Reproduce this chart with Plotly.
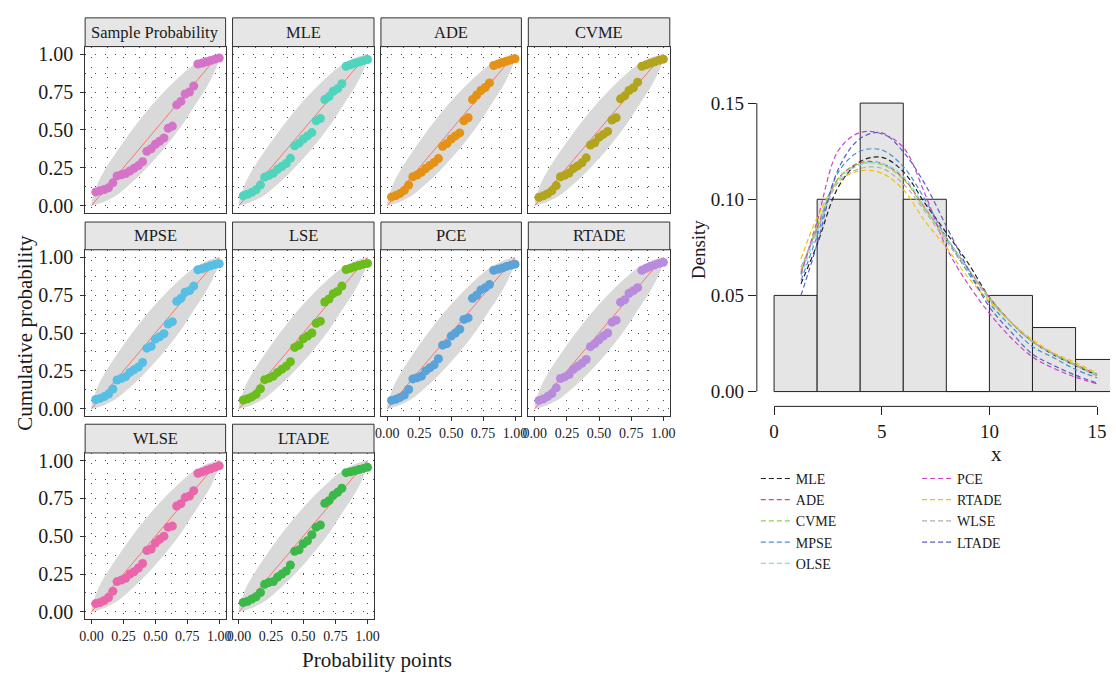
import plotly.graph_objects as go

W, H = 1116, 675
SERIF = "Liberation Serif"

# ---------------- P-P plot data ----------------
pp_x = [0.033, 0.067, 0.100, 0.133, 0.167, 0.200, 0.233, 0.267, 0.300, 0.333,
        0.367, 0.400, 0.433, 0.467, 0.500, 0.533, 0.567, 0.600, 0.633, 0.667,
        0.700, 0.733, 0.767, 0.800, 0.833, 0.867, 0.900, 0.933, 0.967, 1.000]

sample_prob = [0.090, 0.097, 0.106, 0.117, 0.150, 0.196, 0.203, 0.212, 0.228, 0.246,
               0.264, 0.290, 0.358, 0.375, 0.405, 0.425, 0.446, 0.510, 0.525, 0.665,
               0.688, 0.737, 0.750, 0.790, 0.935, 0.942, 0.950, 0.958, 0.967, 0.975]
mle = [0.064, 0.075, 0.088, 0.104, 0.136, 0.188, 0.200, 0.214, 0.240, 0.258,
       0.278, 0.312, 0.395, 0.412, 0.440, 0.460, 0.482, 0.560, 0.575, 0.700,
       0.720, 0.755, 0.772, 0.805, 0.920, 0.930, 0.940, 0.948, 0.957, 0.965]
ade = [0.057, 0.066, 0.080, 0.100, 0.135, 0.190, 0.202, 0.220, 0.245, 0.265,
       0.285, 0.310, 0.392, 0.410, 0.440, 0.460, 0.480, 0.560, 0.580, 0.700,
       0.730, 0.760, 0.780, 0.810, 0.925, 0.935, 0.945, 0.953, 0.962, 0.970]
cvme = [0.055, 0.064, 0.078, 0.097, 0.132, 0.190, 0.200, 0.215, 0.245, 0.262,
        0.282, 0.315, 0.400, 0.415, 0.450, 0.470, 0.490, 0.565, 0.580, 0.705,
        0.725, 0.760, 0.778, 0.815, 0.920, 0.930, 0.940, 0.950, 0.960, 0.967]
mpse = [0.061, 0.068, 0.080, 0.097, 0.130, 0.190, 0.200, 0.212, 0.240, 0.258,
        0.276, 0.305, 0.400, 0.412, 0.460, 0.475, 0.495, 0.560, 0.575, 0.710,
        0.730, 0.770, 0.780, 0.810, 0.918, 0.925, 0.935, 0.945, 0.952, 0.958]
lse = [0.058, 0.066, 0.078, 0.095, 0.132, 0.192, 0.202, 0.215, 0.240, 0.260,
       0.280, 0.310, 0.405, 0.420, 0.462, 0.480, 0.500, 0.565, 0.578, 0.705,
       0.725, 0.760, 0.775, 0.810, 0.920, 0.928, 0.938, 0.946, 0.955, 0.960]
pce = [0.055, 0.062, 0.075, 0.090, 0.127, 0.197, 0.205, 0.215, 0.250, 0.270,
       0.290, 0.330, 0.420, 0.430, 0.480, 0.500, 0.525, 0.590, 0.600, 0.730,
       0.750, 0.785, 0.800, 0.820, 0.915, 0.922, 0.930, 0.940, 0.948, 0.955]
rtade = [0.055, 0.065, 0.080, 0.100, 0.138, 0.200, 0.210, 0.226, 0.260, 0.280,
         0.300, 0.325, 0.410, 0.430, 0.456, 0.480, 0.500, 0.572, 0.585, 0.704,
         0.720, 0.763, 0.780, 0.800, 0.915, 0.928, 0.940, 0.950, 0.960, 0.968]
wlse = [0.055, 0.062, 0.075, 0.095, 0.137, 0.200, 0.210, 0.222, 0.250, 0.265,
        0.290, 0.320, 0.405, 0.415, 0.455, 0.480, 0.500, 0.560, 0.567, 0.700,
        0.715, 0.755, 0.766, 0.800, 0.916, 0.925, 0.935, 0.945, 0.955, 0.965]
ltade = [0.062, 0.070, 0.085, 0.100, 0.128, 0.183, 0.195, 0.200, 0.230, 0.250,
         0.270, 0.310, 0.400, 0.410, 0.450, 0.470, 0.510, 0.560, 0.574, 0.717,
         0.735, 0.770, 0.790, 0.817, 0.920, 0.926, 0.932, 0.940, 0.948, 0.955]

panel_names = ["Sample Probability", "MLE", "ADE", "CVME",
               "MPSE", "LSE", "PCE", "RTADE", "WLSE", "LTADE"]
panel_values = [sample_prob, mle, ade, cvme, mpse, lse, pce, rtade, wlse, ltade]
panel_colors = ["#d473c8", "#4fd4bd", "#e39216", "#b3a41e", "#58bfe4",
                "#6cbc1c", "#5aa2d7", "#b98bdc", "#e966aa", "#3bb84a"]

# confidence band (lower / upper edges)
band_x = [0.0, 0.05, 0.1, 0.2, 0.3, 0.4, 0.5, 0.6, 0.7, 0.8, 0.9, 0.95, 1.0]
band_hi = [0.03, 0.15, 0.23, 0.36, 0.48, 0.59, 0.69, 0.78, 0.86, 0.93, 0.975, 0.99, 1.0]
band_lo = [0.0, 0.01, 0.025, 0.07, 0.14, 0.22, 0.31, 0.41, 0.52, 0.65, 0.78, 0.86, 0.97]
ref_line = [0.0, 1.0]

pp_ticks = [0.0, 0.25, 0.5, 0.75, 1.0]
pp_ticktext = ["0.00", "0.25", "0.50", "0.75", "1.00"]
pp_minor = [0.125, 0.375, 0.625, 0.875]

# ---------------- Histogram + fitted densities ----------------
bin_edges = [0, 2, 4, 6, 8, 10, 12, 14, 16]
bin_density = [0.05, 0.10, 0.15, 0.10, 0.0, 0.05, 0.0333, 0.0167]

curve_x = [1.25, 2, 3, 4, 5, 6, 7, 8, 9, 10, 11, 12, 13, 14, 15]
dens_mle = [0.056, 0.0766, 0.1067, 0.1196, 0.1218, 0.1144, 0.098, 0.0826, 0.067, 0.049, 0.036, 0.026, 0.019, 0.0135, 0.0085]
dens_ade = [0.062, 0.0852, 0.111, 0.119, 0.1187, 0.111, 0.0955, 0.080, 0.064, 0.049, 0.036, 0.026, 0.0195, 0.014, 0.009]
dens_cvme = [0.063, 0.086, 0.111, 0.1185, 0.118, 0.1105, 0.095, 0.0795, 0.064, 0.049, 0.036, 0.026, 0.0195, 0.014, 0.009]
dens_mpse = [0.0577, 0.081, 0.1144, 0.125, 0.1256, 0.117, 0.100, 0.080, 0.062, 0.046, 0.034, 0.0234, 0.0175, 0.0115, 0.0072]
dens_olse = [0.060, 0.083, 0.110, 0.1178, 0.1187, 0.112, 0.096, 0.080, 0.064, 0.048, 0.036, 0.026, 0.019, 0.0135, 0.0085]
dens_pce = [0.061, 0.0887, 0.1256, 0.1347, 0.134, 0.127, 0.103, 0.075, 0.056, 0.0407, 0.028, 0.018, 0.012, 0.0075, 0.004]
dens_rtade = [0.069, 0.0904, 0.1093, 0.1148, 0.1136, 0.105, 0.0887, 0.075, 0.0595, 0.047, 0.036, 0.027, 0.020, 0.0151, 0.0096]
dens_wlse = [0.0646, 0.084, 0.109, 0.116, 0.1161, 0.108, 0.0938, 0.078, 0.063, 0.048, 0.036, 0.026, 0.0195, 0.0135, 0.008]
dens_ltade = [0.050, 0.0766, 0.1161, 0.1316, 0.1345, 0.1247, 0.108, 0.086, 0.064, 0.044, 0.031, 0.0195, 0.0135, 0.0085, 0.0045]

curve_names = ["MLE", "ADE", "CVME", "MPSE", "OLSE", "PCE", "RTADE", "WLSE", "LTADE"]
curve_values = [dens_mle, dens_ade, dens_cvme, dens_mpse, dens_olse,
                dens_pce, dens_rtade, dens_wlse, dens_ltade]
curve_colors = ["#222222", "#e8455d", "#8fd14f", "#3f93cf", "#86dbe6",
                "#c844c4", "#f2c300", "#b0b0b0", "#5a5ec6"]

hist_xticks = [0, 5, 10, 15]
hist_yticks = [0.0, 0.05, 0.10, 0.15]
hist_yticktext = ["0.00", "0.05", "0.10", "0.15"]

# ---------------- geometry ----------------
col_px = [(80, 222), (229, 372), (379, 521), (528, 671)]
row_px = [(44, 212), (249, 417), (454, 622)]
strip_px = [(15, 44), (221, 249), (425, 454)]
bottom_panels = {6, 7, 8, 9}


def fx(px):
    return px / W


def fy(py):
    return 1 - py / H


fig = go.Figure()
layout = dict(
    width=W, height=H, margin=dict(l=0, r=0, t=0, b=0),
    paper_bgcolor="white", plot_bgcolor="white",
    font=dict(family=SERIF, color="#1a1a1a"),
)
shapes = []
annotations = []

for k, (name, vals, col) in enumerate(zip(panel_names, panel_values, panel_colors)):
    r, c = divmod(k, 4)
    ax = "" if k == 0 else str(k + 1)
    xr, yr = "x" + ax, "y" + ax
    # band
    fig.add_trace(go.Scatter(
        x=band_x + band_x[::-1], y=band_hi + band_lo[::-1], xaxis=xr, yaxis=yr,
        mode="lines", fill="toself", fillcolor="#d9d9d9",
        line=dict(width=0, shape="spline", smoothing=1.0), hoverinfo="skip", showlegend=False))
    fig.add_trace(go.Scatter(
        x=ref_line, y=ref_line, xaxis=xr, yaxis=yr, mode="lines",
        line=dict(color="#f8766d", width=1), showlegend=False, hoverinfo="skip"))
    fig.add_trace(go.Scatter(
        x=pp_x, y=vals, xaxis=xr, yaxis=yr, mode="markers",
        marker=dict(color=col, size=9, line=dict(width=0)), showlegend=False))

    bottom = k in bottom_panels
    left = c == 0
    grid = dict(showgrid=True, gridcolor="#4a4a4a", gridwidth=1, griddash="1px,9px")
    layout["xaxis" + ax] = dict(
        domain=[fx(col_px[c][0]), fx(col_px[c][1])], range=[-0.05, 1.05], anchor=yr,
        showline=True, mirror=True, linecolor="#333333", linewidth=1, zeroline=False,
        tickvals=pp_ticks, ticktext=pp_ticktext, showticklabels=bottom,
        ticks="outside" if bottom else "", ticklen=4, tickcolor="#333333",
        tickfont=dict(family=SERIF, size=14, color="#1a1a1a"),
        minor=dict(tickvals=pp_minor, ticks="", **grid), **grid)
    layout["yaxis" + ax] = dict(
        domain=[fy(row_px[r][1]), fy(row_px[r][0])], range=[-0.05, 1.05], anchor=xr,
        showline=True, mirror=True, linecolor="#333333", linewidth=1, zeroline=False,
        tickvals=pp_ticks, ticktext=pp_ticktext, showticklabels=left,
        ticks="outside" if left else "", ticklen=4, tickcolor="#333333",
        ticklabelstandoff=3,
        tickfont=dict(family=SERIF, size=20, color="#1a1a1a"),
        minor=dict(tickvals=pp_minor, ticks="", **grid), **grid)
    # strip
    shapes.append(dict(type="rect", xref="paper", yref="paper",
                       x0=fx(col_px[c][0]), x1=fx(col_px[c][1]),
                       y0=fy(strip_px[r][1]), y1=fy(strip_px[r][0]),
                       fillcolor="#e6e6e6", line=dict(color="#333333", width=1), layer="above"))
    annotations.append(dict(xref="paper", yref="paper",
                            x=fx((col_px[c][0] + col_px[c][1]) / 2),
                            y=fy((strip_px[r][0] + strip_px[r][1]) / 2),
                            text=name, showarrow=False, xanchor="center", yanchor="middle",
                            font=dict(family=SERIF, size=16.5, color="#1a1a1a")))

# histogram
HX, HY = "x11", "y11"
bin_mid = [(a + b) / 2 for a, b in zip(bin_edges[:-1], bin_edges[1:])]
bin_w = [b - a for a, b in zip(bin_edges[:-1], bin_edges[1:])]
fig.add_trace(go.Bar(x=bin_mid, y=bin_density, width=bin_w, xaxis=HX, yaxis=HY,
                     marker=dict(color="#e5e5e5", line=dict(color="#222222", width=1)),
                     showlegend=False))
for i, (nm, vals, col) in enumerate(zip(curve_names, curve_values, curve_colors)):
    fig.add_trace(go.Scatter(
        x=curve_x, y=vals, xaxis=HX, yaxis=HY, mode="lines", name=nm,
        line=dict(color=col, width=1.2, dash="5px,3px", shape="spline", smoothing=1.0),
        legend="legend" if i < 5 else "legend2"))

layout["xaxis11"] = dict(domain=[fx(759), 1.0], range=[-0.8, 15.6], anchor=HY,
                         showline=False, showgrid=False, zeroline=False,
                         tickvals=hist_xticks, ticks="outside", ticklen=8, tickcolor="#222222",
                         tickfont=dict(family=SERIF, size=19, color="#1a1a1a"))
layout["yaxis11"] = dict(domain=[fy(407), fy(81.6)], range=[-0.0077, 0.16], anchor=HX,
                         showline=False, showgrid=False, zeroline=False,
                         tickvals=hist_yticks, ticktext=hist_yticktext,
                         ticks="outside", ticklen=8, tickcolor="#222222",
                         tickfont=dict(family=SERIF, size=19, color="#1a1a1a"))
shapes.append(dict(type="line", xref=HX, yref="y11 domain", x0=hist_xticks[0], x1=hist_xticks[-1],
                   y0=0, y1=0, line=dict(color="#222222", width=1)))
shapes.append(dict(type="line", xref="x11 domain", yref=HY, x0=0, x1=0,
                   y0=hist_yticks[0], y1=hist_yticks[-1], line=dict(color="#222222", width=1)))

# axis titles
def title(x, y, text, size, angle=0):
    return dict(xref="paper", yref="paper", x=fx(x), y=fy(y), text=text, textangle=angle,
                xanchor="center", yanchor="middle", showarrow=False,
                font=dict(family=SERIF, size=size, color="#1a1a1a"))


annotations += [
    title(19, 333, "Cumulative probability", 21, -90),
    title(375, 663, "Probability points", 21),
    title(700, 248, "Density", 19, -90),
    title(1001, 455, "x", 21),
]

leg_common = dict(xanchor="left", yanchor="top", bgcolor="rgba(0,0,0,0)",
                  font=dict(family=SERIF, size=14, color="#1a1a1a"),
                  itemwidth=30, tracegroupgap=0, orientation="v")
layout["legend"] = dict(x=fx(758), y=fy(464), **leg_common)
layout["legend2"] = dict(x=fx(921), y=fy(464), **leg_common)
layout["shapes"] = shapes
layout["annotations"] = annotations
fig.update_layout(**layout)

fig.write_html("out.html")
